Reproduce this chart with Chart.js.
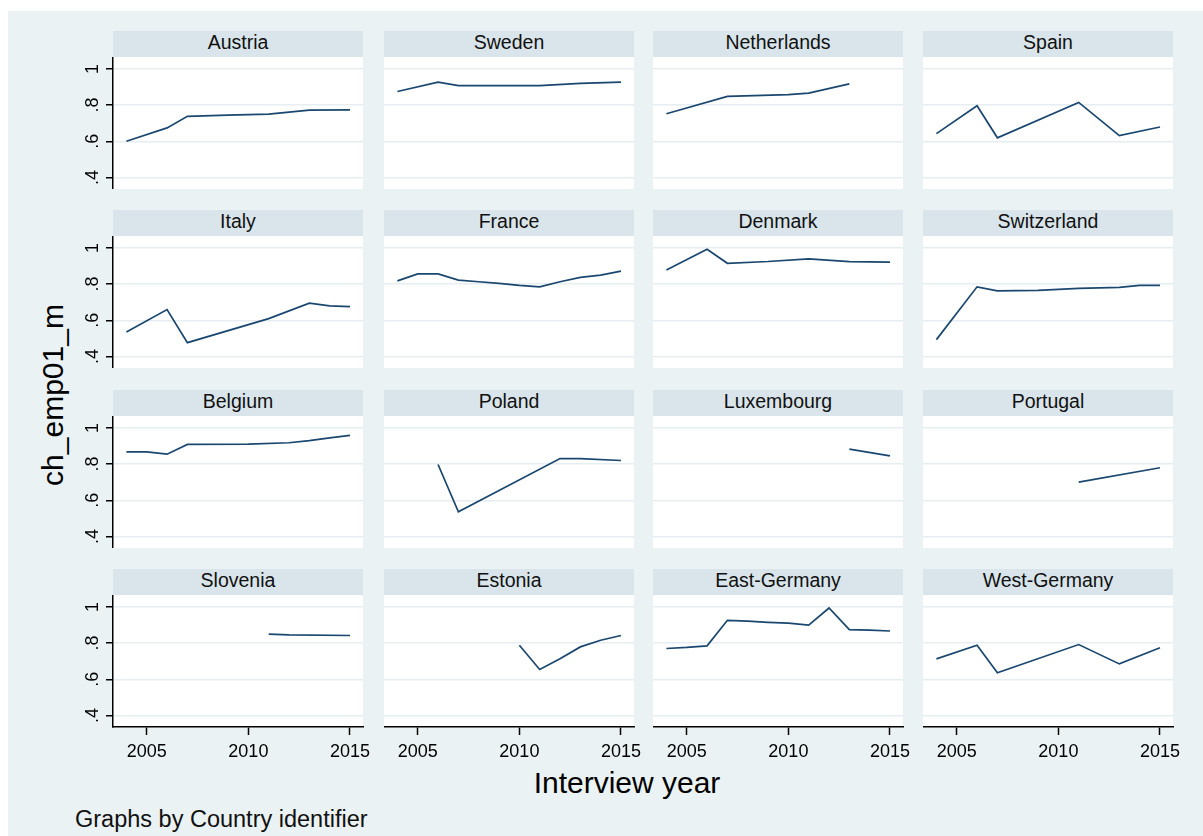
<!DOCTYPE html>
<html>
<head>
<meta charset="utf-8">
<title>ch_emp01_m by country</title>
<script src="https://cdn.jsdelivr.net/npm/chart.js@4.4.1/dist/chart.umd.min.js"></script>
<style>
  body {
    margin: 0;
    width: 1203px;
    height: 836px;
    position: relative;
    overflow: hidden;
    background: #fff;
    font-family: "Liberation Sans", Arial, sans-serif;
    color: #111;
  }
  #region {
    position: absolute;
    left: 8px;
    top: 11px;
    width: 1195px;
    height: 825px;
    background: #eaf2f3;
  }
  .strip {
    position: absolute;
    width: 250px;
    height: 26px;
    background: #d9e5ea;
    text-align: center;
    font-size: 19.5px;
    line-height: 23px;
    white-space: nowrap;
  }
  canvas { position: absolute; }
  .title {
    position: absolute;
    white-space: nowrap;
    color: #000;
  }
  #ytitle {
    left: -97px;
    top: 380px;
    width: 300px;
    height: 30px;
    font-size: 30px;
    line-height: 30px;
    text-align: center;
    transform: rotate(-90deg);
  }
  #xtitle {
    left: 427px;
    top: 768px;
    width: 400px;
    font-size: 30px;
    line-height: 30px;
    text-align: center;
  }
  #note {
    left: 75px;
    top: 807px;
    font-size: 23.5px;
    line-height: 24px;
    color: #111;
  }
</style>
</head>
<body>
<div id="region"></div>
<div class="title" id="ytitle">ch_emp01_m</div>
<div class="title" id="xtitle">Interview year</div>
<div class="title" id="note">Graphs by Country identifier</div>

<script>
// share of employed, by country and interview year
const austriaYears = [2004, 2006, 2007, 2009, 2011, 2013, 2015];
const austriaShare = [0.600, 0.674, 0.738, 0.745, 0.750, 0.772, 0.774];
const swedenYears = [2004, 2006, 2007, 2011, 2013, 2015];
const swedenShare = [0.875, 0.927, 0.908, 0.908, 0.920, 0.927];
const netherlandsYears = [2004, 2007, 2010, 2011, 2013];
const netherlandsShare = [0.752, 0.848, 0.858, 0.866, 0.917];
const spainYears = [2004, 2006, 2007, 2011, 2013, 2015];
const spainShare = [0.642, 0.796, 0.619, 0.815, 0.631, 0.679];

const italyYears = [2004, 2006, 2007, 2011, 2013, 2014, 2015];
const italyShare = [0.535, 0.659, 0.476, 0.609, 0.695, 0.680, 0.675];
const franceYears = [2004, 2005, 2006, 2007, 2008, 2009, 2010, 2011, 2012, 2013, 2014, 2015];
const franceShare = [0.818, 0.856, 0.856, 0.822, 0.813, 0.804, 0.793, 0.785, 0.813, 0.837, 0.850, 0.872];
const denmarkYears = [2004, 2006, 2007, 2009, 2011, 2013, 2015];
const denmarkShare = [0.878, 0.993, 0.915, 0.925, 0.940, 0.924, 0.922];
const switzerlandYears = [2004, 2006, 2007, 2009, 2011, 2013, 2014, 2015];
const switzerlandShare = [0.493, 0.785, 0.763, 0.765, 0.776, 0.782, 0.793, 0.793];

const belgiumYears = [2004, 2005, 2006, 2007, 2010, 2012, 2013, 2014, 2015];
const belgiumShare = [0.868, 0.868, 0.855, 0.909, 0.910, 0.918, 0.930, 0.945, 0.959];
const polandYears = [2006, 2007, 2012, 2013, 2015];
const polandShare = [0.798, 0.536, 0.831, 0.830, 0.820];
const luxembourgYears = [2013, 2015];
const luxembourgShare = [0.883, 0.845];
const portugalYears = [2011, 2015];
const portugalShare = [0.700, 0.780];

const sloveniaYears = [2011, 2012, 2015];
const sloveniaShare = [0.850, 0.845, 0.842];
const estoniaYears = [2010, 2011, 2012, 2013, 2014, 2015];
const estoniaShare = [0.788, 0.654, 0.713, 0.779, 0.816, 0.842];
const eastGermanyYears = [2004, 2005, 2006, 2007, 2008, 2009, 2010, 2011, 2012, 2013, 2014, 2015];
const eastGermanyShare = [0.770, 0.776, 0.785, 0.926, 0.921, 0.915, 0.910, 0.899, 0.994, 0.875, 0.872, 0.867];
const westGermanyYears = [2004, 2006, 2007, 2011, 2013, 2015];
const westGermanyShare = [0.713, 0.788, 0.636, 0.792, 0.685, 0.774];

const xTicks = [2005, 2010, 2015];
const yTicks = [0.4, 0.6, 0.8, 1];
const yTickLabels = ['.4', '.6', '.8', '1'];

const panels = [
    { name: 'Austria', years: austriaYears, values: austriaShare },
    { name: 'Sweden', years: swedenYears, values: swedenShare },
    { name: 'Netherlands', years: netherlandsYears, values: netherlandsShare },
    { name: 'Spain', years: spainYears, values: spainShare },
    { name: 'Italy', years: italyYears, values: italyShare },
    { name: 'France', years: franceYears, values: franceShare },
    { name: 'Denmark', years: denmarkYears, values: denmarkShare },
    { name: 'Switzerland', years: switzerlandYears, values: switzerlandShare },
    { name: 'Belgium', years: belgiumYears, values: belgiumShare },
    { name: 'Poland', years: polandYears, values: polandShare },
    { name: 'Luxembourg', years: luxembourgYears, values: luxembourgShare },
    { name: 'Portugal', years: portugalYears, values: portugalShare },
    { name: 'Slovenia', years: sloveniaYears, values: sloveniaShare },
    { name: 'Estonia', years: estoniaYears, values: estoniaShare },
    { name: 'East-Germany', years: eastGermanyYears, values: eastGermanyShare },
    { name: 'West-Germany', years: westGermanyYears, values: westGermanyShare }
];

// grid layout of the small multiples (page pixels)
const colLeft = [113, 384, 653, 923];
const stripTop = [31, 210, 390, 569];
const panelWidth = 250;
const stripHeight = 26;
const plotHeight = 132;

const xMin = 2003.34, xMax = 2015.64;
const yMin = 0.336, yMax = 1.066;

const fontFamily = '"Liberation Sans", Arial, sans-serif';
const lineColor = '#1a476f';
const gridColor = '#e6eef1';

Chart.defaults.font.family = fontFamily;

// white plot region behind the grid
const plotBackground = {
    id: 'plotBackground',
    beforeDraw(chart) {
        const area = chart.chartArea;
        const ctx = chart.ctx;
        ctx.save();
        ctx.fillStyle = '#fff';
        ctx.fillRect(area.left, area.top, area.right - area.left, area.bottom - area.top);
        ctx.restore();
    }
};

// y tick labels, turned to read upwards
const yTickText = {
    id: 'yTickText',
    afterDraw(chart) {
        const scale = chart.scales.y;
        const ctx = chart.ctx;
        ctx.save();
        ctx.fillStyle = '#000';
        ctx.font = '18px ' + fontFamily;
        ctx.textAlign = 'center';
        ctx.textBaseline = 'alphabetic';
        yTicks.forEach((v, i) => {
            ctx.save();
            ctx.translate(scale.right - 15, scale.getPixelForValue(v));
            ctx.rotate(-Math.PI / 2);
            ctx.fillText(yTickLabels[i], 0, 0);
            ctx.restore();
        });
        ctx.restore();
    }
};

function makePanel(p, idx) {
    const row = Math.floor(idx / 4);
    const col = idx % 4;
    const leftAxis = col === 0;
    const bottomAxis = row === 3;
    const padL = leftAxis ? 40 : 0;
    const padB = bottomAxis ? 45 : 0;
    const padR = bottomAxis ? 16 : 0;

    const strip = document.createElement('div');
    strip.className = 'strip';
    strip.style.left = colLeft[col] + 'px';
    strip.style.top = stripTop[row] + 'px';
    strip.textContent = p.name;
    document.body.appendChild(strip);

    const canvas = document.createElement('canvas');
    canvas.width = panelWidth + padL + padR;
    canvas.height = plotHeight + padB;
    canvas.style.left = (colLeft[col] - padL) + 'px';
    canvas.style.top = (stripTop[row] + stripHeight) + 'px';
    document.body.appendChild(canvas);

    new Chart(canvas, {
        type: 'line',
        data: {
            datasets: [{
                data: p.years.map((yr, i) => ({ x: yr, y: p.values[i] })),
                borderColor: lineColor,
                borderWidth: 1.7,
                pointRadius: 0,
                tension: 0,
                fill: false
            }]
        },
        options: {
            responsive: false,
            animation: false,
            events: [],
            layout: { padding: { left: 0, right: padR, top: 0, bottom: 0 } },
            plugins: {
                legend: { display: false },
                tooltip: { enabled: false }
            },
            scales: {
                x: {
                    type: 'linear',
                    min: xMin,
                    max: xMax,
                    display: bottomAxis,
                    afterBuildTicks: s => { s.ticks = xTicks.map(v => ({ value: v })); },
                    afterFit: s => {
                        s.height = padB;
                        s.paddingLeft = 0;
                        s.paddingRight = 0;
                    },
                    grid: {
                        drawOnChartArea: false,
                        tickLength: 8,
                        tickColor: '#000',
                        tickWidth: 1.5
                    },
                    border: { color: '#000', width: 1.5 },
                    ticks: {
                        padding: 6,
                        color: '#000',
                        maxRotation: 0,
                        font: { size: 18 },
                        callback: v => String(v)
                    }
                },
                y: {
                    min: yMin,
                    max: yMax,
                    afterBuildTicks: s => { s.ticks = yTicks.map(v => ({ value: v })); },
                    afterFit: s => {
                        s.width = padL;
                        s.paddingTop = 0;
                        s.paddingBottom = 0;
                    },
                    grid: {
                        color: gridColor,
                        lineWidth: 1.5,
                        drawTicks: leftAxis,
                        tickLength: 7,
                        tickColor: '#000',
                        tickWidth: 1.5
                    },
                    border: { display: leftAxis, color: '#000', width: 1.5 },
                    ticks: { display: false }
                }
            }
        },
        plugins: leftAxis ? [plotBackground, yTickText] : [plotBackground]
    });
}

panels.forEach(makePanel);
</script>
</body>
</html>
